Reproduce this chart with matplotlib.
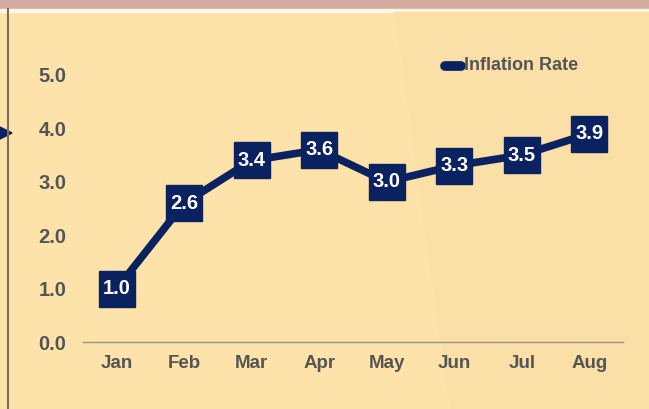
import matplotlib
matplotlib.use("Agg")
import matplotlib.pyplot as plt
from matplotlib.patches import Rectangle, Polygon
from matplotlib.lines import Line2D

months = ["Jan", "Feb", "Mar", "Apr", "May", "Jun", "Jul", "Aug"]
inflation = [1.0, 2.6, 3.4, 3.6, 3.0, 3.3, 3.5, 3.9]
yticks = [0.0, 1.0, 2.0, 3.0, 4.0, 5.0]
series_name = "Inflation Rate"

plt.rcParams["font.family"] = ["Liberation Sans", "DejaVu Sans"]

W, H = 649, 409
fig = plt.figure(figsize=(W / 100, H / 100), dpi=100)
fig.patch.set_facecolor("#FDE3AA")

# background decorations (figure pixel coords)
bg = fig.add_axes([0, 0, 1, 1], zorder=0)
bg.set_xlim(0, W)
bg.set_ylim(H, 0)
bg.axis("off")
bg.add_patch(Rectangle((0, 0), W, 9, color="#D4ABA0"))
bg.add_patch(Rectangle((0, 9), W, 3, color="#FFF6E4"))
bg.add_patch(Polygon([(395, 12), (W, 12), (W, H), (450, H)], color="#FADFA7"))
bg.plot([7.5, 7.5], [9, H], color="#7A6E60", lw=1.5)
bg.add_patch(Polygon([(0, 127), (12, 133), (0, 139)], color="#0B2260"))

navy = "#0B2260"
grey = "#555555"

x0, x1 = 83, 623
y0, y5 = 342, 75
ax = fig.add_axes([x0 / W, 1 - y0 / H, (x1 - x0) / W, (y0 - y5) / H], zorder=1)
ax.set_facecolor("none")
xs = list(range(len(months)))
ax.set_xlim(-0.5, len(months) - 0.5)
ax.set_ylim(0, 5)
ax.plot(xs, inflation, color=navy, lw=5.5, solid_joinstyle="miter", zorder=2,
        clip_on=False)
ax.plot(xs, inflation, "s", ms=25.5, color=navy, zorder=3, clip_on=False)
for x, v in zip(xs, inflation):
    ax.text(x, v, f"{v:.1f}", color="white", fontsize=14.5, fontweight="bold",
            ha="center", va="center", zorder=4)

for s in ["top", "right", "left"]:
    ax.spines[s].set_visible(False)
ax.spines["bottom"].set_color("#9A9285")
ax.spines["bottom"].set_linewidth(1)
ax.set_xticks(xs)
ax.set_xticklabels(months)
ax.set_yticks(yticks)
ax.set_yticklabels([f"{t:.1f}" for t in yticks])
ax.tick_params(length=0, labelcolor=grey)
ax.tick_params(axis="x", pad=9, labelsize=13.5)
ax.tick_params(axis="y", pad=12, labelsize=14.5)
for lab in ax.get_xticklabels() + ax.get_yticklabels():
    lab.set_fontweight("bold")

# legend
bg.add_line(Line2D([445, 461], [66, 66], color=navy, lw=7, solid_capstyle="round"))
bg.text(464, 66, series_name, color=grey, fontsize=13, fontweight="bold",
        ha="left", va="center")

fig.savefig("out.png", dpi=100)
